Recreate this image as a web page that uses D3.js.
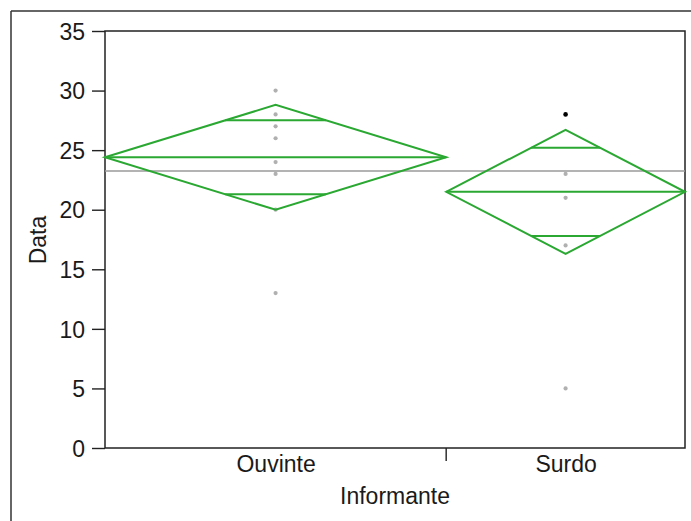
<!DOCTYPE html>
<html>
<head>
<meta charset="utf-8">
<script src="https://cdn.jsdelivr.net/npm/d3@7"></script>
<style>
  html, body { margin: 0; padding: 0; background: #fff; }
  svg { display: block; }
  text { font-family: "Liberation Sans", Arial, Helvetica, sans-serif; fill: #1a1a1a; }
</style>
</head>
<body>
<svg id="chart" width="691" height="521"></svg>
<script>
// ---- Data ----
const categories = ["Ouvinte", "Surdo"];
const groupSizes = [10, 7];            // relative widths of the diamonds
const groupMeans = [24.4, 21.5];
const ciLower = [20.0, 16.3];
const ciUpper = [28.8, 26.7];
const overlapLower = [21.3, 17.8];
const overlapUpper = [27.5, 25.2];
const grandMean = 23.25;
const ouvintePoints = [30, 28, 27, 26, 24, 23, 20, 13];
const surdoPoints = [28, 23, 21, 17, 5];
const surdoHighlighted = [true, false, false, false, false];
const yTicks = [0, 5, 10, 15, 20, 25, 30, 35];
const yLabel = "Data";
const xLabel = "Informante";

// ---- Layout ----
const svg = d3.select("#chart");
const pLeft = 105, pRight = 685, pTop = 31, pBottom = 448;
const fs = "23px";

const y = d3.scaleLinear().domain([0, 35]).range([pBottom, pTop]);

// x positions proportional to group sizes
const total = d3.sum(groupSizes);
const xFrac = d3.scaleLinear().domain([0, total]).range([pLeft, pRight]);
const cum = [0];
groupSizes.forEach((n, i) => cum.push(cum[i] + n));
const bounds = categories.map((c, i) => [xFrac(cum[i]), xFrac(cum[i + 1])]);

// outer page frame
svg.append("line").attr("x1", 11).attr("x2", 11).attr("y1", 11).attr("y2", 521)
  .attr("stroke", "#333").attr("stroke-width", 1.5);
svg.append("line").attr("x1", 11).attr("x2", 691).attr("y1", 11).attr("y2", 11)
  .attr("stroke", "#333").attr("stroke-width", 1.5);

// plot frame
svg.append("rect").attr("x", pLeft).attr("y", pTop)
  .attr("width", pRight - pLeft).attr("height", pBottom - pTop)
  .attr("fill", "none").attr("stroke", "#222").attr("stroke-width", 1.5);

// y axis
const yAxis = d3.axisLeft(y).tickValues(yTicks).tickSize(13).tickPadding(7);
const gy = svg.append("g").attr("transform", `translate(${pLeft},0)`).call(yAxis);
gy.select(".domain").remove();
gy.selectAll(".tick line").attr("stroke", "#222").attr("stroke-width", 1.4);
gy.selectAll(".tick text").style("font-size", fs).attr("fill", "#1a1a1a")
  .attr("dy", "0.36em");

// x axis: category labels and separator tick
const centers = bounds.map(b => (b[0] + b[1]) / 2);
const xBand = d3.scaleOrdinal().domain(categories).range(centers);
const xAxis = d3.axisBottom(xBand).tickSize(0).tickPadding(8);
const gx = svg.append("g").attr("transform", `translate(0,${pBottom})`).call(xAxis);
gx.select(".domain").remove();
gx.selectAll(".tick text").style("font-size", fs).attr("fill", "#1a1a1a");
for (let i = 1; i < categories.length; i++) {
  svg.append("line").attr("x1", bounds[i][0]).attr("x2", bounds[i][0])
    .attr("y1", pBottom).attr("y2", pBottom + 13)
    .attr("stroke", "#222").attr("stroke-width", 1.4);
}

// axis titles
svg.append("text").attr("transform", `translate(46,240) rotate(-90)`)
  .attr("text-anchor", "middle").style("font-size", fs).text(yLabel);
svg.append("text").attr("x", 395).attr("y", 504)
  .attr("text-anchor", "middle").style("font-size", fs).text(xLabel);

// grand mean line
svg.append("line").attr("x1", pLeft).attr("x2", pRight)
  .attr("y1", y(grandMean)).attr("y2", y(grandMean))
  .attr("stroke", "#9a9a9a").attr("stroke-width", 1.6);

// points
const pointSets = [ouvintePoints, surdoPoints];
const highlightSets = [ouvintePoints.map(() => false), surdoHighlighted];
pointSets.forEach((pts, i) => {
  svg.append("g").selectAll("circle").data(pts).join("circle")
    .attr("cx", centers[i]).attr("cy", d => y(d))
    .attr("r", (d, j) => highlightSets[i][j] ? 2.3 : 2.1)
    .attr("fill", (d, j) => highlightSets[i][j] ? "#000" : "#b0b0b0");
});

// means diamonds
const green = "#2aa832";
categories.forEach((c, i) => {
  const [x0, x1] = bounds[i];
  const cx = centers[i];
  const m = groupMeans[i];
  const hw = (x1 - x0) / 2;
  const pts = [[x0, y(m)], [cx, y(ciUpper[i])], [x1, y(m)], [cx, y(ciLower[i])]];
  svg.append("path").attr("d", d3.line()(pts) + "Z")
    .attr("fill", "none").attr("stroke", green).attr("stroke-width", 2)
    .attr("stroke-linejoin", "miter");
  svg.append("line").attr("x1", x0).attr("x2", x1)
    .attr("y1", y(m)).attr("y2", y(m))
    .attr("stroke", green).attr("stroke-width", 2);
  [overlapUpper[i], overlapLower[i]].forEach(v => {
    const lo = v > m ? (ciUpper[i] - m) : (m - ciLower[i]);
    const w = hw * (1 - Math.abs(v - m) / lo);
    svg.append("line").attr("x1", cx - w).attr("x2", cx + w)
      .attr("y1", y(v)).attr("y2", y(v))
      .attr("stroke", green).attr("stroke-width", 2);
  });
});
</script>
</body>
</html>
